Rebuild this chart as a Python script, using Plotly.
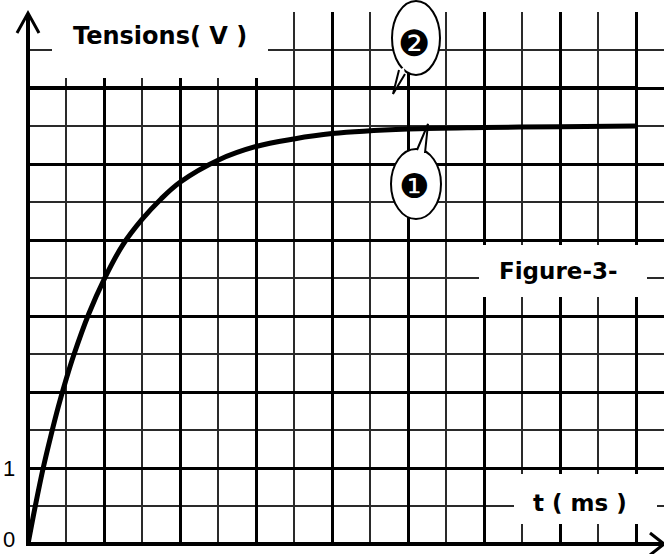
"""
Charge curve of a capacitor (Figure-3-) redrawn with Plotly.
"""

import plotly.graph_objects as go

# Image size and plot area (pixels)
WIDTH, HEIGHT = 664, 554
LEFT, RIGHT, TOP, BOTTOM = 28, 0, 12, 10
PLOT_W = WIDTH - LEFT - RIGHT
PLOT_H = HEIGHT - TOP - BOTTOM

# Curve 1: capacitor voltage (t in grid units, u in V)
t_curve = [0, 0.1, 0.2, 0.3, 0.4, 0.5, 0.6, 0.8, 1.0, 1.25, 1.5, 1.75, 2.0, 2.5, 3.0, 3.5, 4.0, 5.0, 6.0, 7.0, 8.0]
u_curve = [0, 0.52, 1.0, 1.42, 1.81, 2.16, 2.48, 3.03, 3.48, 3.94, 4.27, 4.54, 4.76, 5.05, 5.23, 5.33, 5.40, 5.46, 5.48, 5.49, 5.5]

# Curve 2: generator voltage (constant)
t_source = [0, 8]
u_source = [6, 6]

# Axis labels shown on the y axis
y_label_values = [0, 1]
y_label_texts = ["0", "1"]

X_MAX = PLOT_W / 76.0
Y_MAX = PLOT_H / 76.0


def px(x):
    """Pixel x -> paper x"""
    return (x - LEFT) / PLOT_W


def py(y):
    """Pixel y -> paper y"""
    return (HEIGHT - BOTTOM - y) / PLOT_H


def path(points, close=False):
    """Build an SVG path in paper coords from pixel points"""
    s = "M " + " L ".join(f"{px(x):.5f},{py(y):.5f}" for x, y in points)
    return s + (" Z" if close else "")


fig = go.Figure()

fig.add_trace(
    go.Scatter(
        x=t_source, y=u_source, mode="lines", line=dict(color="black", width=4), hoverinfo="skip"
    )
)
fig.add_trace(
    go.Scatter(
        x=t_curve,
        y=u_curve,
        mode="lines",
        line=dict(color="black", width=5, shape="spline", smoothing=1.0),
        hoverinfo="skip",
    )
)

shapes = []

# White masks behind the labels
for x0, y0, x1, y1 in [(52, 0, 268, 78), (479, 245, 647, 297), (514, 474, 657, 524)]:
    shapes.append(
        dict(
            type="rect", xref="paper", yref="paper",
            x0=px(x0), x1=px(x1), y0=py(y1), y1=py(y0),
            fillcolor="white", line=dict(width=0), layer="above",
        )
    )

# Axes with arrows
axis_line = dict(color="black", width=4)
shapes.append(dict(type="path", xref="paper", yref="paper", path=path([(28, 545), (28, 14)]), line=axis_line, layer="above"))
shapes.append(dict(type="path", xref="paper", yref="paper", path=path([(26, 544), (662, 544)]), line=axis_line, layer="above"))
arrow_line = dict(color="black", width=3)
shapes.append(dict(type="path", xref="paper", yref="paper", path=path([(17, 33), (28, 13), (39, 33)]), line=arrow_line, layer="above"))
shapes.append(dict(type="path", xref="paper", yref="paper", path=path([(650, 533), (664, 544), (650, 555)]), line=arrow_line, layer="above"))

# Speech bubbles
bubbles = [
    # (cx, cy, rx, ry, tail points)
    (416, 38, 24, 37, [(399, 70), (393, 94), (405, 74)]),
    (416, 184, 25, 35, [(417, 150), (428, 124), (425, 153)]),
]
for cx, cy, rx, ry, tail in bubbles:
    shapes.append(
        dict(
            type="circle", xref="paper", yref="paper",
            x0=px(cx - rx), x1=px(cx + rx), y0=py(cy + ry), y1=py(cy - ry),
            fillcolor="white", line=dict(color="black", width=2), layer="above",
        )
    )
    (ax_, ay_), tip, (bx_, by_) = tail
    inner = ((ax_ + bx_) / 2 + (cx - tip[0]) * 0.08, (ay_ + by_) / 2 + (cy - tip[1]) * 0.08)
    shapes.append(
        dict(
            type="path", xref="paper", yref="paper",
            path=path([(ax_, ay_), tip, (bx_, by_), inner], close=True),
            fillcolor="white", line=dict(width=0), layer="above",
        )
    )
    shapes.append(
        dict(type="path", xref="paper", yref="paper", path=path(tail), line=dict(color="black", width=2), layer="above")
    )

label_font = dict(family="DejaVu Sans", size=23, color="black")
annotations = [
    dict(text="<b>Tensions( V )</b>", x=px(160), y=py(36), font=dict(label_font, size=24)),
    dict(text="<b>Figure-3-</b>", x=px(558), y=py(271), font=label_font),
    dict(text="<b>t ( ms )</b>", x=px(580), y=py(503), font=label_font),
    dict(text="❷", x=px(414), y=py(43), font=dict(family="DejaVu Sans", size=36, color="black")),
    dict(text="❶", x=px(414), y=py(186), font=dict(family="DejaVu Sans", size=34, color="black")),
]
for value, text in zip(y_label_values, y_label_texts):
    annotations.append(
        dict(
            text=text, x=px(9), y=value, yref="y",
            # the "0" sits on the bottom edge, so anchor it from below
            yanchor="bottom" if value == 0 else "middle",
            yshift=-10 if value == 0 else 0,
            font=dict(family="Liberation Sans", size=22, color="black"),
        )
    )
for a in annotations:
    a.setdefault("xref", "paper")
    a.setdefault("yref", "paper")
    a.setdefault("yanchor", "middle")
    a.update(showarrow=False, xanchor="center")

grid_axis = dict(
    showgrid=True,
    gridcolor="black",
    gridwidth=3,
    dtick=1,
    tick0=0,
    showticklabels=False,
    ticks="",
    zeroline=False,
    showline=False,
    minor=dict(dtick=0.5, showgrid=True, gridcolor="#2a2a2a", gridwidth=1.6),
    fixedrange=True,
)

fig.update_layout(
    width=WIDTH,
    height=HEIGHT,
    margin=dict(l=LEFT, r=RIGHT, t=TOP, b=BOTTOM, pad=0),
    paper_bgcolor="white",
    plot_bgcolor="white",
    showlegend=False,
    xaxis=dict(grid_axis, range=[0, X_MAX]),
    yaxis=dict(grid_axis, range=[0, Y_MAX]),
    shapes=shapes,
    annotations=annotations,
)

# Drop the default page margin so the figure sits at the window's corner
fig.write_html(
    "out.html",
    config={"displayModeBar": False},
    post_script="document.body.style.margin = '0';",
)
